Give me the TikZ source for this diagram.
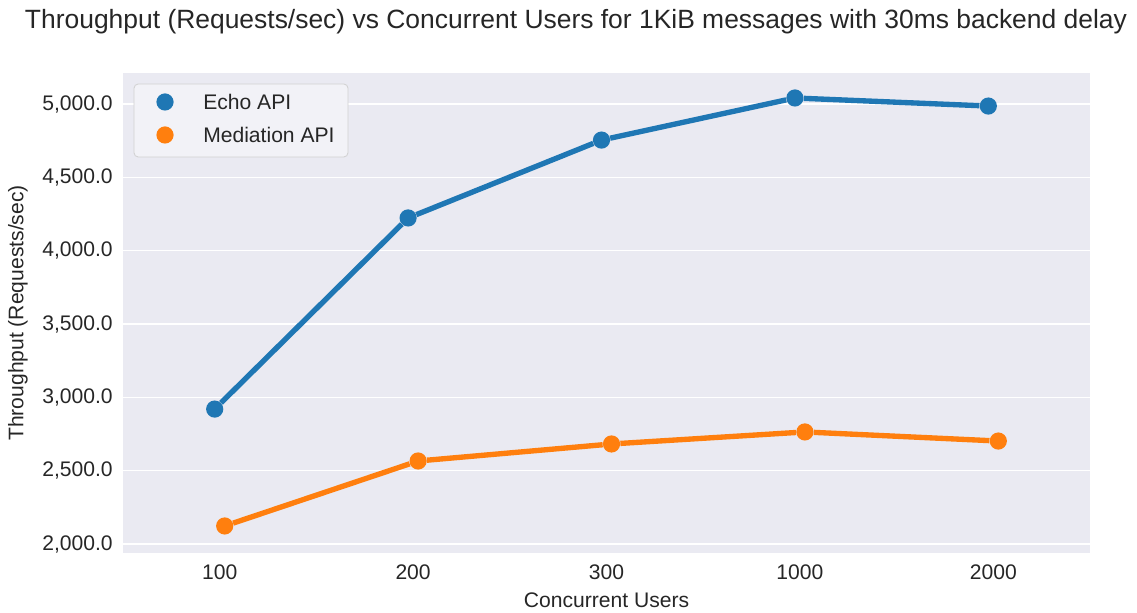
\documentclass[tikz,border=0pt]{standalone}
\usepackage{fontspec}
\setmainfont{Liberation Sans}
\definecolor{axbg}{HTML}{EAEAF2}
\definecolor{echoblue}{HTML}{1F77B4}
\definecolor{medorange}{HTML}{FF7F0E}
\definecolor{txtgray}{HTML}{262626}
\begin{document}
\begin{tikzpicture}[x=0.025cm,y=0.025cm,
    tick/.style={text=txtgray,font=\fontsize{15}{18}\selectfont,inner sep=0pt},
    dot/.style={circle,inner sep=0pt,minimum size=0.43cm},
    serie/.style={line width=3.8pt}]
    \useasboundingbox (0,0) rectangle (1137,612);

    % Achtergrond van de assen
    \fill[axbg] (123,59) rectangle (1090,539);

    % Horizontale rasterlijnen + y-labels
    \foreach \v/\lab in {2000/{2,000.0},2500/{2,500.0},3000/{3,000.0},3500/{3,500.0},4000/{4,000.0},4500/{4,500.0},5000/{5,000.0}} {
      \pgfmathsetmacro{\yy}{68+(\v-2000)*0.146667}
      \draw[white,line width=1.1pt] (123,\yy) -- (1090,\yy);
      \node[tick,anchor=east] (ylab\v) at (113,\yy) {\lab};
    }

    % x-labels
    \foreach \i/\lab in {0/100,1/200,2/300,3/1000,4/2000} {
      \pgfmathsetmacro{\xx}{123+(\i+0.5)*193.4}
      \node[tick] (xlab\i) at (\xx,40) {\lab};
    }

    % Meetpunten
    \foreach \i/\e/\m in {1/2920/2123,2/4223/2566,3/4754/2682,4/5041/2764,5/4986/2702} {
      \pgfmathsetmacro{\xx}{123+(\i-0.5)*193.4}
      \pgfmathsetmacro{\ye}{68+(\e-2000)*0.146667}
      \pgfmathsetmacro{\ym}{68+(\m-2000)*0.146667}
      \node[dot,fill=echoblue] (echo\i) at (\xx-5,\ye) {};
      \node[dot,fill=medorange] (med\i) at (\xx+5,\ym) {};
    }

    % Lijnen tussen de punten
    \foreach \a/\b in {1/2,2/3,3/4,4/5} {
      \draw[serie,echoblue] (echo\a) -- (echo\b);
      \draw[serie,medorange] (med\a) -- (med\b);
    }

    % Legenda
    \draw[rounded corners=3pt,fill=axbg!60!white,draw=black!18,line width=0.6pt] (134,455) rectangle (348,528);
    \node[dot,fill=echoblue] (legecho) at (165,510) {};
    \node[dot,fill=medorange] (legmed) at (165,477) {};
    \node[tick,anchor=west] (legechotxt) at (203,510) {Echo API};
    \node[tick,anchor=west] (legmedtxt) at (203,477) {Mediation API};

    % Titels
    \node[text=txtgray,font=\fontsize{18.8}{22}\selectfont,inner sep=0pt] (title) at (576,590) {Throughput (Requests/sec) vs Concurrent Users for 1KiB messages with 30ms backend delay};
    \node[tick] (xtitle) at (606.5,12) {Concurrent Users};
    \node[tick,rotate=90] (ytitle) at (18,299) {Throughput (Requests/sec)};
\end{tikzpicture}
\end{document}
